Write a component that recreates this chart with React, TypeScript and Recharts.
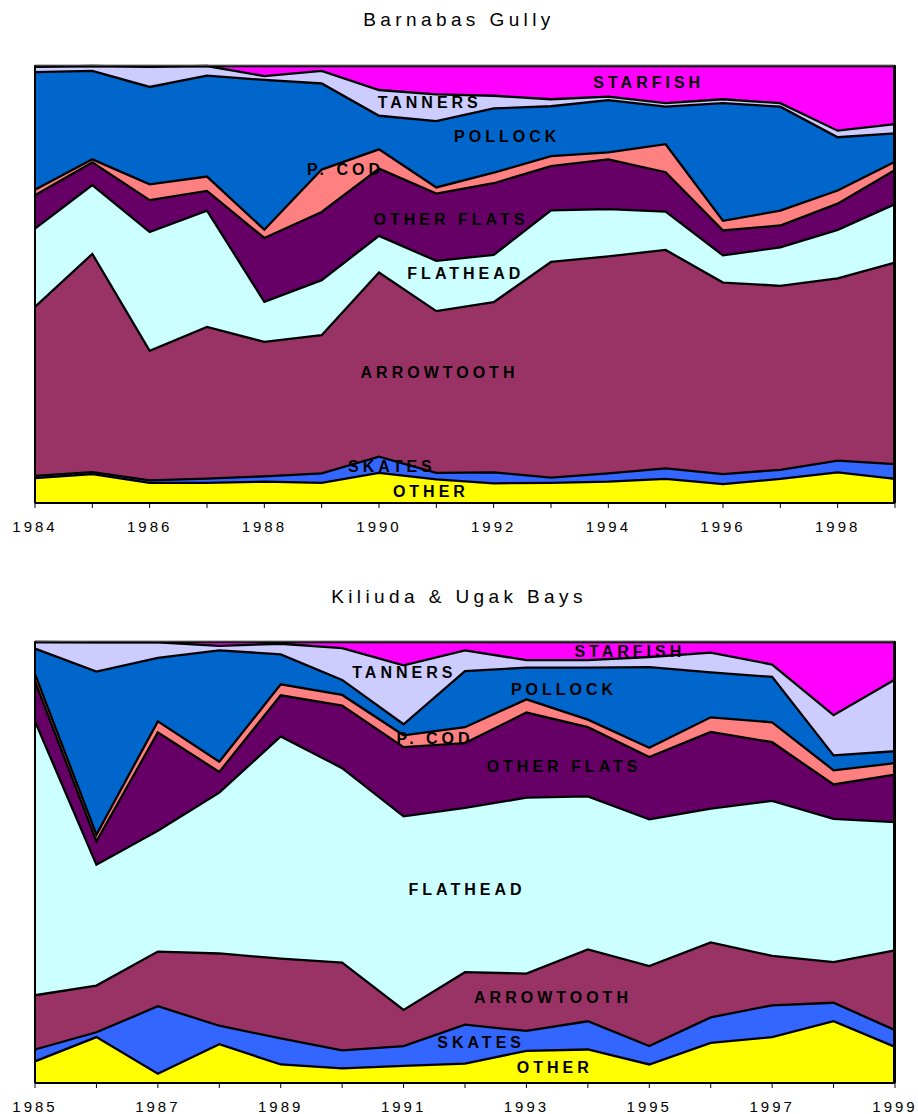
import React from 'react';
import { AreaChart, Area, XAxis, YAxis, ReferenceDot } from 'recharts';

// ---------- Barnabas Gully (1984-1999), percent composition ----------
const bgYears = [1984, 1985, 1986, 1987, 1988, 1989, 1990, 1991, 1992, 1993, 1994, 1995, 1996, 1997, 1998, 1999];
const bgOther = [5.7, 6.6, 4.6, 4.6, 4.9, 4.6, 6.9, 5.4, 4.5, 4.6, 4.9, 5.5, 4.3, 5.5, 7.0, 5.5];
const bgSkates = [0.5, 0.5, 0.6, 1.0, 1.2, 2.2, 3.7, 1.5, 2.5, 1.2, 1.9, 2.4, 2.3, 2.1, 2.7, 3.4];
const bgArrowtooth = [38.7, 50.0, 29.6, 34.7, 30.8, 31.6, 42.2, 37.0, 38.9, 49.3, 49.7, 50.0, 43.8, 42.1, 41.7, 46.1];
const bgFlathead = [17.9, 15.8, 27.2, 26.6, 9.2, 12.6, 8.4, 11.5, 10.8, 11.8, 10.8, 8.8, 6.2, 8.8, 11.1, 13.4];
const bgOtherFlats = [7.6, 5.2, 7.3, 4.5, 14.6, 15.6, 15.4, 15.4, 16.4, 10.1, 11.4, 9.0, 5.7, 5.0, 6.0, 7.8];
const bgPCod = [1.3, 0.7, 3.6, 3.3, 1.9, 9.7, 4.4, 1.4, 2.4, 2.3, 1.6, 6.4, 2.2, 3.4, 3.0, 1.9];
const bgPollock = [26.9, 20.3, 22.3, 23.1, 34.3, 19.7, 7.7, 15.2, 14.7, 11.4, 12.0, 8.6, 26.9, 23.8, 12.2, 6.5];
const bgTanners = [1.2, 1.1, 4.6, 2.2, 0.9, 2.9, 5.9, 6.1, 2.9, 1.6, 0.8, 0.8, 0.9, 0.8, 1.5, 2.1];
const bgStarfish = [0.2, 0.0, 0.2, 0.0, 2.3, 1.1, 5.5, 6.5, 6.8, 7.6, 7.0, 8.5, 7.6, 8.5, 14.8, 13.3];
const bgTickYears = [1984, 1986, 1988, 1990, 1992, 1994, 1996, 1998];

// ---------- Kiliuda & Ugak Bays (1985-1999), percent composition ----------
const kuYears = [1985, 1986, 1987, 1988, 1989, 1990, 1991, 1992, 1993, 1994, 1995, 1996, 1997, 1998, 1999];
const kuOther = [4.9, 10.4, 2.1, 8.8, 4.2, 3.3, 3.9, 4.4, 7.3, 7.6, 4.2, 9.1, 10.4, 14.0, 8.2];
const kuSkates = [2.7, 1.1, 15.3, 4.2, 5.9, 4.1, 4.5, 8.8, 4.5, 6.4, 4.2, 5.8, 7.2, 4.2, 3.8];
const kuArrowtooth = [12.3, 10.6, 12.4, 16.4, 18.1, 19.9, 8.2, 11.9, 13.0, 16.3, 18.1, 17.0, 11.2, 9.2, 18.1];
const kuFlathead = [62.1, 27.4, 27.4, 36.5, 50.4, 44.1, 44.0, 37.2, 39.9, 34.7, 33.3, 30.4, 35.1, 32.5, 29.1];
const kuOtherFlats = [9.1, 5.3, 22.3, 4.7, 9.3, 14.2, 15.7, 14.7, 19.3, 15.7, 14.1, 17.4, 13.3, 7.8, 10.8];
const kuPCod = [1.6, 1.5, 2.5, 2.3, 2.5, 2.4, 2.7, 3.6, 3.0, 1.7, 2.1, 3.3, 4.5, 3.2, 2.6];
const kuPollock = [5.8, 37.0, 14.4, 25.3, 6.8, 3.4, 2.5, 12.7, 7.2, 11.8, 18.3, 10.2, 10.3, 3.4, 2.7];
const kuTanners = [1.5, 6.6, 3.5, 1.0, 2.4, 7.2, 13.4, 4.7, 1.7, 1.7, 2.3, 4.5, 2.8, 9.1, 16.3];
const kuStarfish = [0.0, 0.1, 0.1, 0.9, 0.4, 1.4, 5.3, 1.9, 4.1, 4.1, 3.4, 2.4, 5.1, 16.6, 8.5];
const kuTickYears = [1985, 1987, 1989, 1991, 1993, 1995, 1997, 1999];

// series (bottom to top)
const seriesKeys = ['other', 'skates', 'arrowtooth', 'flathead', 'otherFlats', 'pCod', 'pollock', 'tanners', 'starfish'];
const seriesColors = ['#FFFF00', '#3366FF', '#993366', '#CCFFFF', '#660066', '#FF8080', '#0066CC', '#CCCCFF', '#FF00FF'];

// in-chart labels: [text, year, fraction]
const bgLabels: [string, number, number][] = [
  ['STARFISH', 1994.67, 0.963],
  ['TANNERS', 1990.85, 0.918],
  ['POLLOCK', 1992.2, 0.84],
  ['P. COD', 1989.38, 0.764],
  ['OTHER FLATS', 1991.22, 0.65],
  ['FLATHEAD', 1991.48, 0.526],
  ['ARROWTOOTH', 1991.02, 0.299],
  ['SKATES', 1990.19, 0.085],
  ['OTHER', 1990.87, 0.026],
];
const kuLabels: [string, number, number][] = [
  ['STARFISH', 1994.65, 0.979],
  ['TANNERS', 1990.98, 0.931],
  ['POLLOCK', 1993.58, 0.894],
  ['P. COD', 1991.48, 0.782],
  ['OTHER FLATS', 1993.58, 0.718],
  ['FLATHEAD', 1992.0, 0.4385],
  ['ARROWTOOTH', 1993.4, 0.194],
  ['SKATES', 1992.23, 0.092],
  ['OTHER', 1993.43, 0.036],
];

const FONT = '"Liberation Sans", Arial, Helvetica, sans-serif';

function buildRows(years: number[], cols: number[][]) {
  return years.map((y, i) => {
    const row: Record<string, number> = { year: y };
    seriesKeys.forEach((k, j) => {
      row[k] = cols[j][i];
    });
    return row;
  });
}

const bgData = buildRows(bgYears, [bgOther, bgSkates, bgArrowtooth, bgFlathead, bgOtherFlats, bgPCod, bgPollock, bgTanners, bgStarfish]);
const kuData = buildRows(kuYears, [kuOther, kuSkates, kuArrowtooth, kuFlathead, kuOtherFlats, kuPCod, kuPollock, kuTanners, kuStarfish]);

const makeLabelShape = (text: string) => (props: any) => (
  <text
    x={props.cx + 2}
    y={props.cy}
    dy="0.36em"
    textAnchor="middle"
    fontFamily={FONT}
    fontWeight="bold"
    fontSize={16}
    letterSpacing={4}
    fill="#000"
  >
    {text}
  </text>
);

const PLOT_LEFT = 35;
const PLOT_RIGHT_MARGIN = 23;
const PLOT_TOP = 66;

function StackChart({ data, years, tickYears, labels, height }: any) {
  const first = years[0];
  const last = years[years.length - 1];
  const plotBottom = height - 37;
  return (
    <div style={{ position: 'relative', width: 918, height }}>
      <AreaChart
        width={918}
        height={height}
        data={data}
        stackOffset="expand"
        margin={{ top: PLOT_TOP, right: PLOT_RIGHT_MARGIN, left: PLOT_LEFT, bottom: 7 }}
      >
        <XAxis
          dataKey="year"
          type="number"
          domain={[first, last]}
          ticks={years}
          interval={0}
          height={30}
          tickFormatter={(v: number) => (tickYears.includes(v) ? String(v) : '')}
          axisLine={{ stroke: '#000', strokeWidth: 2 }}
          tickLine={{ stroke: '#000', strokeWidth: 1 }}
          tickSize={5}
          tickMargin={13}
          tick={{ fill: '#000', fontSize: 15, fontFamily: FONT, letterSpacing: 3 }}
        />
        <YAxis hide domain={[0, 1]} />
        {seriesKeys.map((k, i) => (
          <Area
            key={'fill-' + k}
            type="linear"
            dataKey={k}
            stackId="fills"
            fill={seriesColors[i]}
            fillOpacity={1}
            stroke="none"
            isAnimationActive={false}
            dot={false}
            activeDot={false}
          />
        ))}
        {seriesKeys.map((k) => (
          <Area
            key={'line-' + k}
            type="linear"
            dataKey={k}
            stackId="lines"
            fill="none"
            stroke="#000"
            strokeWidth={2.3}
            strokeLinejoin="miter"
            isAnimationActive={false}
            dot={false}
            activeDot={false}
          />
        ))}
        {labels.map(([t, x, y]: [string, number, number]) => (
          <ReferenceDot key={t} x={x} y={y} r={0} shape={makeLabelShape(t)} />
        ))}
      </AreaChart>
      <div
        style={{
          position: 'absolute',
          pointerEvents: 'none',
          left: PLOT_LEFT - 1,
          top: PLOT_TOP - 1,
          width: 918 - PLOT_LEFT - PLOT_RIGHT_MARGIN + 2,
          height: plotBottom - PLOT_TOP + 1,
          boxSizing: 'border-box',
          borderLeft: '2.5px solid #000',
          borderRight: '3px solid #000',
          borderTop: '1.5px solid #444',
        }}
      />
    </div>
  );
}

const titleStyle: React.CSSProperties = {
  position: 'absolute',
  left: 0,
  width: 918,
  textAlign: 'center',
  fontFamily: FONT,
  fontSize: 19,
  letterSpacing: 4.4,
  lineHeight: '22px',
  color: '#000',
};

export default function App() {
  return (
    <div style={{ position: 'absolute', left: 0, top: 0, width: 918, height: 1114, background: '#fff' }}>
      <div style={{ ...titleStyle, top: 9 }}>Barnabas Gully</div>
      <div style={{ position: 'absolute', left: 0, top: 0 }}>
        <StackChart data={bgData} years={bgYears} tickYears={bgTickYears} labels={bgLabels} height={540} />
      </div>
      <div style={{ ...titleStyle, top: 586 }}>Kiliuda &amp; Ugak Bays</div>
      <div style={{ position: 'absolute', left: 0, top: 576 }}>
        <StackChart data={kuData} years={kuYears} tickYears={kuTickYears} labels={kuLabels} height={544} />
      </div>
    </div>
  );
}
